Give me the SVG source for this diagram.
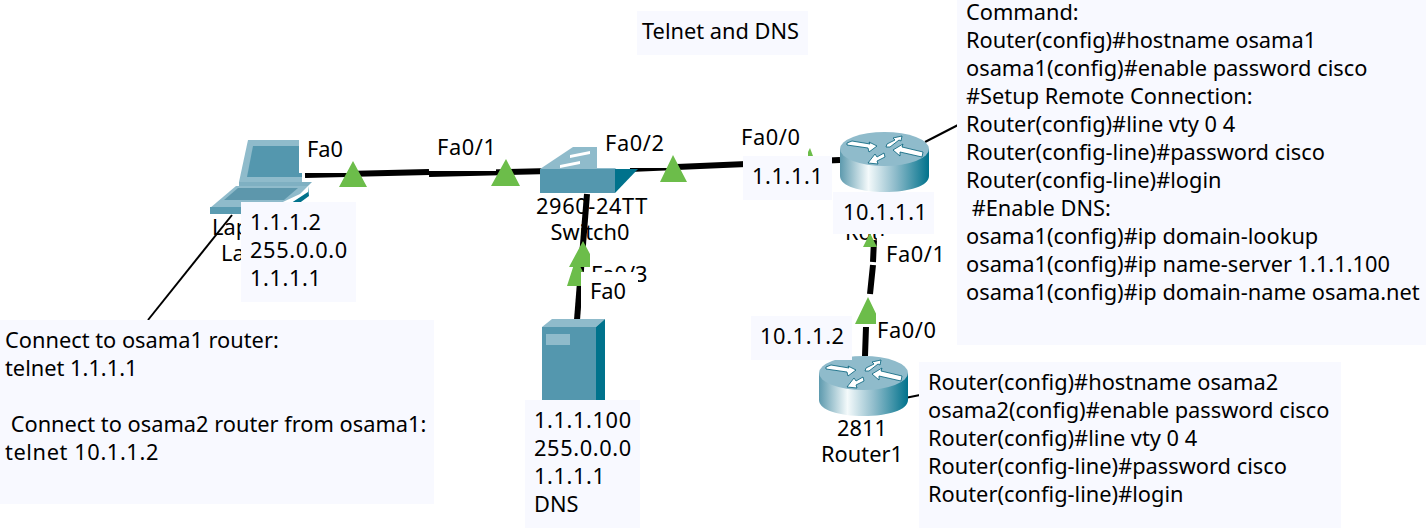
<svg xmlns="http://www.w3.org/2000/svg" width="1426" height="528" viewBox="0 0 1426 528">
<style>
text{font-family:"Noto Sans","Open Sans","Liberation Sans",sans-serif;font-size:21.8px;fill:#000}
.n{fill:#f8f9ff}.w{fill:#fff}.l{fill:none;stroke:#000;stroke-width:6}.t{fill:none;stroke:#000;stroke-width:2}.g{fill:#6cbd4a}
.m{text-anchor:middle}
text.d{letter-spacing:.6px}
</style>
<defs>
<linearGradient id="cyl" x1="0" x2="1" y1="0" y2="0"><stop offset="0" stop-color="#5d9aae"/><stop offset=".32" stop-color="#f4fafb"/><stop offset=".62" stop-color="#8fbccb"/><stop offset="1" stop-color="#00728c"/></linearGradient>
<g id="router">
<path d="M0 17V44C0 54 20 60 44.500 60S89 54 89 44V17Z" fill="url(#cyl)"/>
<ellipse cx="44.500" cy="17" rx="44.500" ry="17" fill="#8fbbcb"/>
<path d="M7 11L12 9 30 12 29 10 37 14 29 20 28 16 7 13Z M46 15L47 12 55 8 53 6 62 4 61 9 59 8 50 15Z M83 20L62 15 63 12 53 18 60 24 60 20 82 25Z M44 21L37 25 35 22 28 31 38 32 37 29 45 25Z" fill="#fff" stroke="#00607a" stroke-width=".8"/>
</g>
</defs>
<g id="connectors">
<path class="l" d="M305 175L429 172"/><path class="l" d="M429 174L550 171"/>
<path class="l" d="M630 169L840 160"/>
<path class="l" d="M587 194L577 320"/>
<path class="l" d="M874 240L873 262M873 265L870 294M866 327L865 356"/>
<path class="t" d="M232 215L148 320"/>
<path class="t" d="M925 142L958 125"/>
<path class="t" d="M905 398L920 395"/>
</g>
<g id="laptop">
<path d="M248 140H302V182H239Z" fill="#8fbbcb"/><path d="M253 146H302V177H247Z" fill="#5497ae"/>
<path d="M239 182H312L308 186H239Z" fill="#7fb0c2"/>
<path d="M236 186H308L300 194 270 208H210Z" fill="#8fbbcb"/><path d="M238 188H298L284 200H224Z" fill="#5d97ac"/>
<path d="M210 207H285V214H210Z" fill="#5a9bb1"/><path d="M285 214V207L308 192V186L309 196 290 210Z" fill="#00728c"/>
<text x="212" y="235">Lap</text><text x="221" y="261">La</text>
</g>
<g id="switch0">
<path d="M540 169L573 147H640L615 169Z" fill="#8fbbcb"/>
<path d="M570 155L590 151 590 154 570 158Z M560 165L580 161 580 164 560 168Z" fill="#fff"/>
<rect x="540" y="169" width="75" height="24" fill="#5497ae"/><path d="M615 169H638L615 193Z" fill="#00728c"/>
<text class="m d" x="592" y="214">2960-24TT</text><text class="m" x="590" y="240">Switch0</text>
</g>
<g id="server0">
<path d="M542 327L552 319H605L596 327Z" fill="#8fbbcb"/>
<rect x="542" y="327" width="54" height="80" fill="#5497ae"/>
<path d="M596 327L605 319V400H596Z" fill="#00728c"/>
<rect x="546" y="334" width="24" height="11" fill="#8fbbcb"/>
</g>
<g id="router0">
<use href="#router" x="840" y="132"/>
<text x="845" y="240">Rou</text>
</g>
<g id="router1">
<use href="#router" x="819" y="356"/>
<text class="m" x="862" y="436">2811</text><text class="m" x="862" y="462">Router1</text>
</g>
<g id="triangles-behind">
<path class="g" d="M583 241L597 267H569Z M576 258L590 286H567Z M870 233L877 247H863Z M868 297L881 324H855Z M810 148L813 156H806Z"/>
</g>
<g id="labels">
<rect class="w" x="299" y="135" width="50" height="38"/><text x="307" y="157">Fa0</text>
<rect class="w" x="430" y="135" width="66" height="36"/><text class="d" x="437" y="155">Fa0/1</text>
<rect class="w" x="597" y="128" width="73" height="40"/><text class="d" x="605" y="151">Fa0/2</text>
<rect class="w" x="734" y="124" width="74" height="36"/><text class="d" x="741" y="145">Fa0/0</text>
<rect class="w" x="877" y="236" width="66" height="36"/><text class="d" x="886" y="262">Fa0/1</text>
<rect class="w" x="876" y="308" width="70" height="42"/><text class="d" x="877" y="338">Fa0/0</text>
<rect class="w" x="590" y="253" width="62" height="30"/><text x="591" y="282">Fa0/3</text>
<rect class="w" x="581" y="272" width="57" height="38"/><text x="590" y="299">Fa0</text>
</g>
<g id="triangles">
<path class="g" d="M353 161L367 187H339Z M506 159L520 186H491Z M673 155L687 182H660Z"/>
</g>
<g id="notes">
<rect class="n" x="637" y="11" width="171" height="44"/><text x="642" y="39">Telnet and DNS</text>
<rect class="n" x="241" y="202" width="115" height="100"/><text class="d" x="250" y="230">1.1.1.2</text><text class="d" x="250" y="258">255.0.0.0</text><text class="d" x="250" y="286">1.1.1.1</text>
<rect class="n" x="743" y="156" width="89" height="44"/><text class="d" x="752" y="184">1.1.1.1</text>
<rect class="n" x="833" y="192" width="101" height="42"/><text class="d" x="843" y="220">10.1.1.1</text>
<rect class="n" x="751" y="316" width="101" height="44"/><text class="d" x="760" y="344">10.1.1.2</text>
<rect class="n" x="525" y="400" width="115" height="128"/><text class="d" x="534" y="428">1.1.1.100</text><text class="d" x="534" y="456">255.0.0.0</text><text class="d" x="534" y="484">1.1.1.1</text><text x="534" y="512">DNS</text>
<rect class="n" x="0" y="320" width="434" height="184"/>
<text x="5" y="348">Connect to osama1 router:</text><text x="5" y="376">telnet 1.1.1.1</text><text x="5" y="432" xml:space="preserve"> Connect to osama2 router from osama1:</text><text class="d" x="5" y="460">telnet 10.1.1.2</text>
<rect class="n" x="957" y="0" width="469" height="345"/>
<text x="966" y="20">Command:</text><text x="966" y="48">Router(config)#hostname osama1</text><text x="966" y="76">osama1(config)#enable password cisco</text><text x="966" y="104">#Setup Remote Connection:</text><text x="966" y="132">Router(config)#line vty 0 4</text><text x="966" y="160">Router(config-line)#password cisco</text><text x="966" y="188">Router(config-line)#login</text><text x="966" y="216" xml:space="preserve"> #Enable DNS:</text><text x="966" y="244">osama1(config)#ip domain-lookup</text><text x="966" y="272">osama1(config)#ip name-server 1.1.1.100</text><text x="966" y="300">osama1(config)#ip domain-name osama.net</text>
<rect class="n" x="919" y="362" width="422" height="166"/>
<text x="928" y="390">Router(config)#hostname osama2</text><text x="928" y="418">osama2(config)#enable password cisco</text><text x="928" y="446">Router(config)#line vty 0 4</text><text x="928" y="474">Router(config-line)#password cisco</text><text x="928" y="502">Router(config-line)#login</text>
</g>
</svg>
